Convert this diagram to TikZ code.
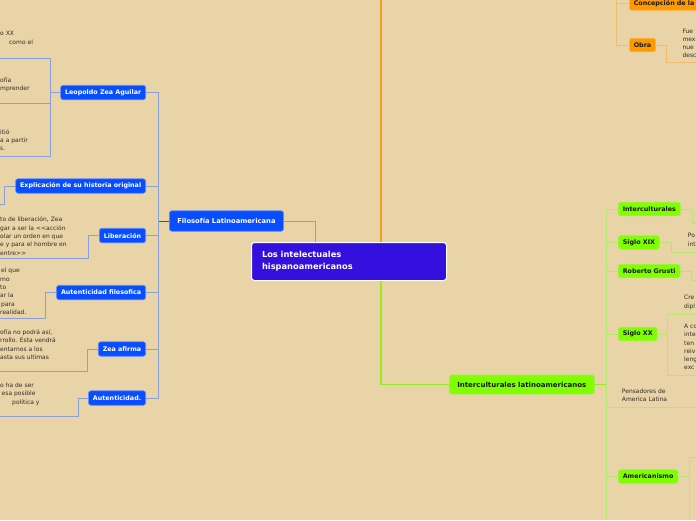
\documentclass[tikz,border=0pt]{standalone}
\usepackage{fontspec}
\setmainfont{DejaVu Sans}
\usetikzlibrary{calc}
\definecolor{bgc}{RGB}{233,212,168}
\definecolor{bnodec}{RGB}{8,78,255}
\definecolor{bnodeb}{RGB}{100,140,255}
\definecolor{blinec}{RGB}{138,160,216}
\definecolor{bdark}{RGB}{30,80,220}
\definecolor{cnodec}{RGB}{51,16,221}
\definecolor{onodec}{RGB}{255,153,0}
\definecolor{onodeb}{RGB}{255,180,70}
\definecolor{omainc}{RGB}{244,158,30}
\definecolor{olinec}{RGB}{245,186,106}
\definecolor{gnodec}{RGB}{128,255,0}
\definecolor{gnodeb}{RGB}{160,240,70}
\definecolor{gmainc}{RGB}{150,236,34}
\definecolor{glinec}{RGB}{180,232,110}
\definecolor{txtc}{RGB}{50,45,40}
\begin{document}
\begin{tikzpicture}[x=1pt,y=-1pt,
  mnode/.style={rounded corners=2.5pt, font=\fontsize{6.35}{7}\selectfont\bfseries, inner xsep=4.5pt, inner ysep=0pt, minimum height=14.5pt, line width=0.6pt},
  bnode/.style={mnode, fill=bnodec, draw=bnodeb, text=white},
  gnode/.style={mnode, fill=gnodec, draw=gnodeb, text=black!90, minimum height=13.5pt},
  onode/.style={mnode, fill=onodec, draw=onodeb, text=black!90, minimum height=13.5pt},
  txt/.style={font=\fontsize{6}{8.3}\selectfont, text=txtc, align=left, inner sep=0pt, anchor=north west, execute at begin node=\strut},
  bline/.style={draw=blinec, line width=0.8pt},
  oline/.style={draw=olinec, line width=0.8pt},
  gline/.style={draw=glinec, line width=0.8pt},
  omain/.style={draw=omainc, line width=1.6pt},
  gmain/.style={draw=gmainc, line width=1.6pt}]
\useasboundingbox (0,0) rectangle (696,520);
\fill[bgc] (0,0) rectangle (696,520);
\clip (0,0) rectangle (696,520);

% central node
\node[anchor=north west, fill=cnodec, draw=white, line width=1pt, rounded corners=3pt,
  minimum width=195pt, minimum height=38pt, text width=174pt, inner xsep=10.5pt, align=left,
  text=white, font=\fontsize{8.3}{11.7}\selectfont\bfseries] (c) at (251,242)
  {Los intelectuales\\hispanoamericanos};

% blue branch
\node[bnode, minimum height=20.5pt, font=\fontsize{6.75}{7.5}\selectfont\bfseries, inner xsep=8pt, anchor=west] (filo) at (169,221) {Filosofía Latinoamericana};
\node[bnode, anchor=east] (leo) at (146,92.5) {Leopoldo Zea Aguilar};
\node[bnode, anchor=east] (expl) at (146,186) {Explicación de su historia original};
\node[bnode, anchor=east] (lib) at (146,235.5) {Liberación};
\node[bnode, anchor=east] (autf) at (146,292.5) {Autenticidad filosofica};
\node[bnode, anchor=east] (zea) at (146,349) {Zea afirma};
\node[bnode, anchor=east] (aut) at (146,398) {Autenticidad.};

\coordinate (bj) at (158,221);
\draw[bline] (filo.east) -| ($(c.north west)+(64,0)$);
\draw[draw=bdark, line width=0.9pt] (filo.west) -- (bj);
\foreach \n in {leo,expl,lib,autf,zea,aut} \draw[bline] (bj) |- (\n.east);

% blue texts and their frames
\coordinate (l1) at (50,58); \coordinate (l2) at (50,103); \coordinate (l3) at (50,156);
\draw[bline] (leo.west) -- (leo.west -| l1);
\draw[bline] (0,58) -- (l1) -- (l3) -- (0,156);
\draw[bline] (0,103) -- (l2);
\node[txt] (ta) at (0,31.2) {o XX\\\hspace*{9pt}como el};
\node[txt] (tb) at (0,77.2) {ofía\\mprender};
\node[txt] (tc) at (0,129.2) {itió\\a a partir\\s.};

\draw[bline] (expl.west) -- (4,186) -- (4,204) -- (0,204);

\draw[bline] (lib.west) -- (88,235.5) -- (88,258) -- (0,258);
\node[txt] (td) at (0,216.9) {to de liberación, Zea\\gar a ser la <\kern0pt<acción\\olar un orden en que\\e y para el hombre en\\entre>\kern0pt>};

\draw[bline] (autf.west) -- (45.7,292.5) -- (45.7,318) -- (0,318);
\node[txt] (te) at (0,268.2) {\hspace*{1pt}el que\\mo\\to\\ar la\\\hspace*{1pt}para\\realidad.};

\draw[bline] (zea.west) -- (87.7,349) -- (87.7,371.7) -- (0,371.7);
\node[txt] (tf) at (0,329.5) {ofía no podrá así,\\rrollo. Esta vendrá\\entarnos a los\\asta sus ultimas};

\draw[bline] (aut.west) -- (78,398) -- (78,416.7) -- (0,416.7);
\node[txt] (tg) at (0,382.9) {o ha de ser\\\hspace*{1.5pt}esa posible\\\hspace*{12pt}política y};

% orange branch
\coordinate (otop) at (381,0);
\draw[omain] ($(c.north west)+(130,0)$) -- (otop);
\node[onode, anchor=west, text width=80pt, align=left] (conc) at (629,3.5) {Concepción de la};
\node[onode, anchor=west] (obra) at (629,45) {Obra};
\coordinate (oj) at (616,0);
\draw[oline] (oj) |- (obra.west);
\draw[oline] (oj |- conc.west) -- (conc.west);
\draw[oline] (obra.east) -- (666,45) -- (666,62.7) -- (696,62.7);
\node[txt] (th) at (682.3,28.5) {Fue\\mex\\nue\\desc};

% green branch
\node[gnode, anchor=west, minimum height=19pt, font=\fontsize{7}{7.8}\selectfont\bfseries, inner xsep=8pt] (ilat) at (449,384.5) {Interculturales latinoamericanos};
\draw[gmain] ($(c.south west)+(130,0)$) |- (ilat.west);
\coordinate (gj) at (606,384.5);
\coordinate (gbot) at (606,520);
\draw[gmain] (ilat.east) -- (gj);
\node[gnode, anchor=west] (inter) at (618,209) {Interculturales};
\node[gnode, anchor=west] (s19) at (618,242.5) {Siglo XIX};
\node[gnode, anchor=west] (rob) at (618,271) {Roberto Grusti};
\node[gnode, anchor=west] (s20) at (618,334) {Siglo XX};
\node[gnode, anchor=west] (amer) at (618,476.5) {Americanismo};
\draw[gline] (gj) |- (inter.west);
\foreach \n in {s19,rob,s20} \draw[gline] (gj) |- (\n.west);
\draw[gline] (gj) -- (gbot);
\draw[gline] (gbot) |- (amer.west);
\draw[gline] (606,407.7) -- (696,407.7);
\node[txt] (tl) at (621.7,388.9) {Pensadores de\\America Latina};

\draw[gline] (inter.east) -- (692,209) -- (692,223) -- (696,223);
\draw[gline] (s19.east) -- (671,242.5) -- (671,252) -- (696,252);
\node[txt] (ti) at (687.7,233.2) {Po\\int};
\draw[gline] (rob.east) -- (691,271) -- (691,280.7) -- (696,280.7);
\draw[gline] (s20.east) -- (667.7,334);
\draw[gline] (696,314) -- (667.7,314) -- (667.7,375) -- (696,375);
\node[txt] (tj) at (684,295.2) {Cre\\dipl};
\node[txt] (tk) at (684,323.9) {A co\\inte\\ten\\reiv\\leng\\exc};
\draw[gline] (amer.east) -- (689,476.5);
\draw[gline] (696,457) -- (689,457) -- (689,520);
\end{tikzpicture}
\end{document}
